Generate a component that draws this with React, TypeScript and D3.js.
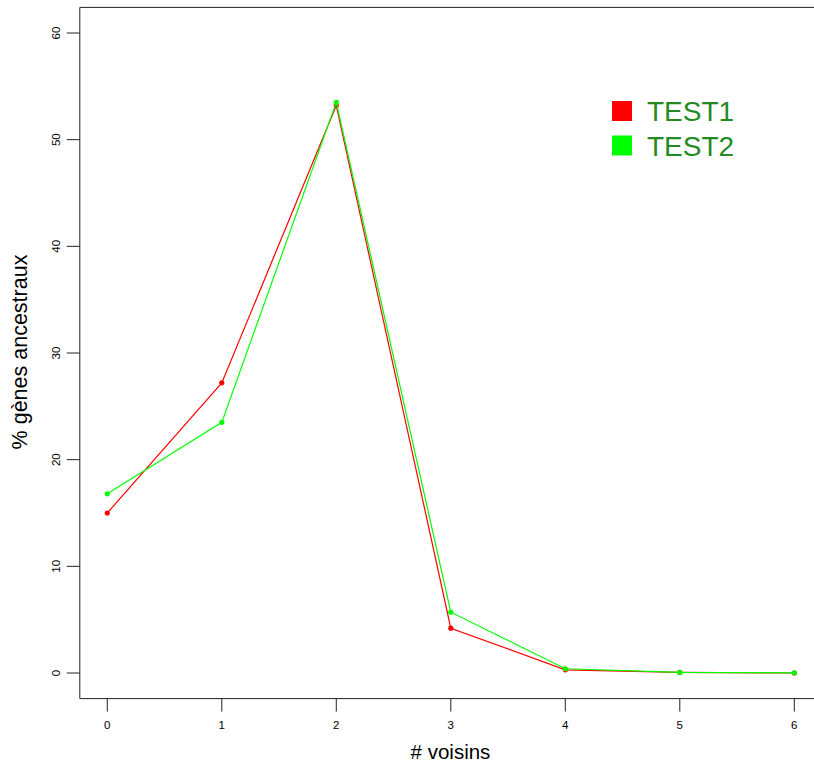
import React from "react";
import * as d3 from "d3";

const categories = [0, 1, 2, 3, 4, 5, 6];
const test1 = [15.0, 27.2, 53.2, 4.2, 0.3, 0.05, 0.0];
const test2 = [16.8, 23.5, 53.5, 5.7, 0.4, 0.05, 0.02];
const yTicks = [0, 10, 20, 30, 40, 50, 60];
const seriesNames = ["TEST1", "TEST2"];
const seriesColors = ["#FF0000", "#00FF00"];

const W = 814;
const H = 764;

export default function App() {
  const x = d3.scaleLinear().domain([-0.24, 6.24]).range([79.8, 821.8]);
  const y = d3.scaleLinear().domain([-2.4, 62.4]).range([698.6, 7.4]);
  const line = d3
    .line<number>()
    .x((_, i) => x(categories[i]))
    .y((d) => y(d));
  const series = [test1, test2];
  const font = "'Liberation Sans', Arial, Helvetica, sans-serif";
  const x0 = x(-0.24);
  const x1 = x(6.24);
  const yb = y(-2.4);
  const yt = y(62.4);
  return (
    <svg
      width={W}
      height={H}
      style={{ position: "absolute", left: 0, top: 0, background: "#fff" }}
      fontFamily={font}
    >
      <rect x={0} y={0} width={W} height={H} fill="#fff" />
      {/* box (right side lies beyond the view) */}
      <path
        d={`M${x1},${yt}H${x0}V${yb}H${x1}`}
        fill="none"
        stroke="#222"
        strokeWidth={1}
      />
      {/* x ticks */}
      {categories.map((c) => (
        <g key={"xt" + c}>
          <line x1={x(c)} x2={x(c)} y1={yb} y2={yb + 13} stroke="#222" />
          <text x={x(c)} y={729} fontSize={11.5} textAnchor="middle" fill="#000">
            {c}
          </text>
        </g>
      ))}
      {/* y ticks */}
      {yTicks.map((t) => (
        <g key={"yt" + t}>
          <line x1={x0 - 13} x2={x0} y1={y(t)} y2={y(t)} stroke="#222" />
          <text
            transform={`translate(60,${y(t)}) rotate(-90)`}
            fontSize={11.5}
            textAnchor="middle"
            fill="#000"
          >
            {t}
          </text>
        </g>
      ))}
      {/* axis titles */}
      <text x={450.5} y={759} fontSize={20.5} textAnchor="middle" fill="#000">
        # voisins
      </text>
      <text
        transform={`translate(27,352) rotate(-90)`}
        fontSize={21.5}
        textAnchor="middle"
        fill="#000"
      >
        % gènes ancestraux
      </text>
      {/* series */}
      {series.map((s, k) => (
        <g key={"s" + k}>
          <path d={line(s) || ""} fill="none" stroke={seriesColors[k]} strokeWidth={1.2} />
          {s.map((v, i) => (
            <circle key={i} cx={x(categories[i])} cy={y(v)} r={2.6} fill={seriesColors[k]} />
          ))}
        </g>
      ))}
      {/* legend */}
      {seriesNames.map((n, k) => (
        <g key={"l" + k}>
          <rect x={612} y={101 + k * 34.5} width={20} height={20} fill={seriesColors[k]} />
          <text x={647} y={121 + k * 34.5} fontSize={28} fill="#228B22">
            {n}
          </text>
        </g>
      ))}
    </svg>
  );
}
